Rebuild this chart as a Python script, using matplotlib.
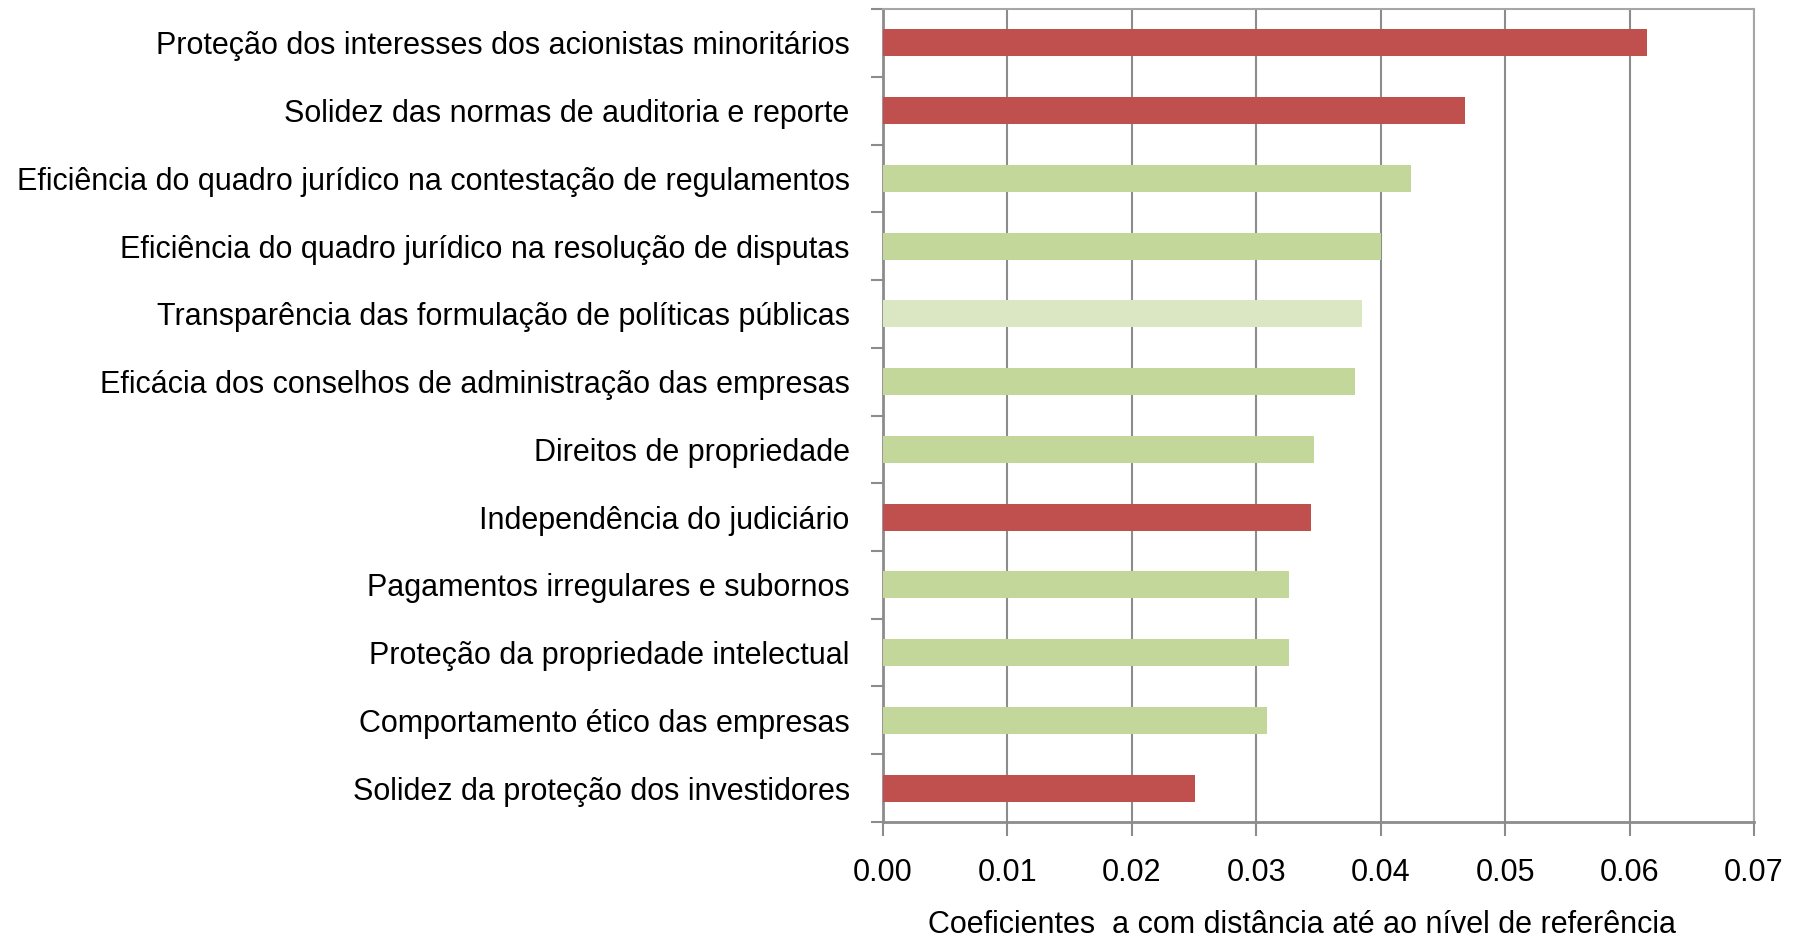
import numpy as np
import matplotlib
matplotlib.use('Agg')
import matplotlib.pyplot as plt
from matplotlib.ticker import FixedLocator, FormatStrFormatter

plt.rcParams['font.family'] = ['Liberation Sans', 'DejaVu Sans']

categorias = ['Proteção dos interesses dos acionistas minoritários',
              'Solidez das normas de auditoria e reporte',
              'Eficiência do quadro jurídico na contestação de regulamentos',
              'Eficiência do quadro jurídico na resolução de disputas',
              'Transparência das formulação de políticas públicas',
              'Eficácia dos conselhos de administração das empresas',
              'Direitos de propriedade',
              'Independência do judiciário',
              'Pagamentos irregulares e subornos',
              'Proteção da propriedade intelectual',
              'Comportamento ético das empresas',
              'Solidez da proteção dos investidores']
valores = [0.0614, 0.0468, 0.0424, 0.0400, 0.0385, 0.0379,
           0.0346, 0.0344, 0.0326, 0.0326, 0.0309, 0.0251]

vermelho = '#C0504D'
verde = '#C4D79B'
verde_claro = '#DBE6C2'
cores = [vermelho, vermelho, verde, verde, verde_claro, verde,
         verde, vermelho, verde, verde, verde, vermelho]

fig = plt.figure(figsize=(18, 9.42), dpi=100)
ax = fig.add_axes([0.4906, 0.1274, 0.4838, 0.863])

y = np.arange(len(categorias))
ax.barh(y, valores, height=0.4, color=cores, edgecolor='none', zorder=3)

ax.set_xlim(0, 0.07)
ax.set_ylim(len(categorias) - 0.5, -0.5)
ax.set_xticks(np.arange(0, 0.0701, 0.01))
ax.xaxis.set_major_formatter(FormatStrFormatter('%.2f'))
ax.xaxis.grid(True, color='#8C8C8C', linewidth=1.5, zorder=0)

ax.set_yticks(y)
ax.set_yticklabels(categorias)
ax.yaxis.set_minor_locator(FixedLocator(np.arange(-0.5, len(categorias), 1)))
ax.tick_params(axis='y', which='major', length=0, pad=24, labelsize=22)
ax.tick_params(axis='y', which='minor', length=9, width=1.5, color='#8C8C8C')
ax.tick_params(axis='x', which='major', length=10, width=1.5, color='#8C8C8C',
               labelsize=22, pad=16)

for lado in ['left', 'bottom']:
    ax.spines[lado].set_color('#8C8C8C')
    ax.spines[lado].set_linewidth(2)
for lado in ['top', 'right']:
    ax.spines[lado].set_color('#A6A6A6')
    ax.spines[lado].set_linewidth(1.5)

ax.set_xlabel('Coeficientes  a com distância até ao nível de referência',
              fontsize=22, labelpad=16)
ax.xaxis.label.set_x(0.481)

fig.savefig('out.png', dpi=100)
